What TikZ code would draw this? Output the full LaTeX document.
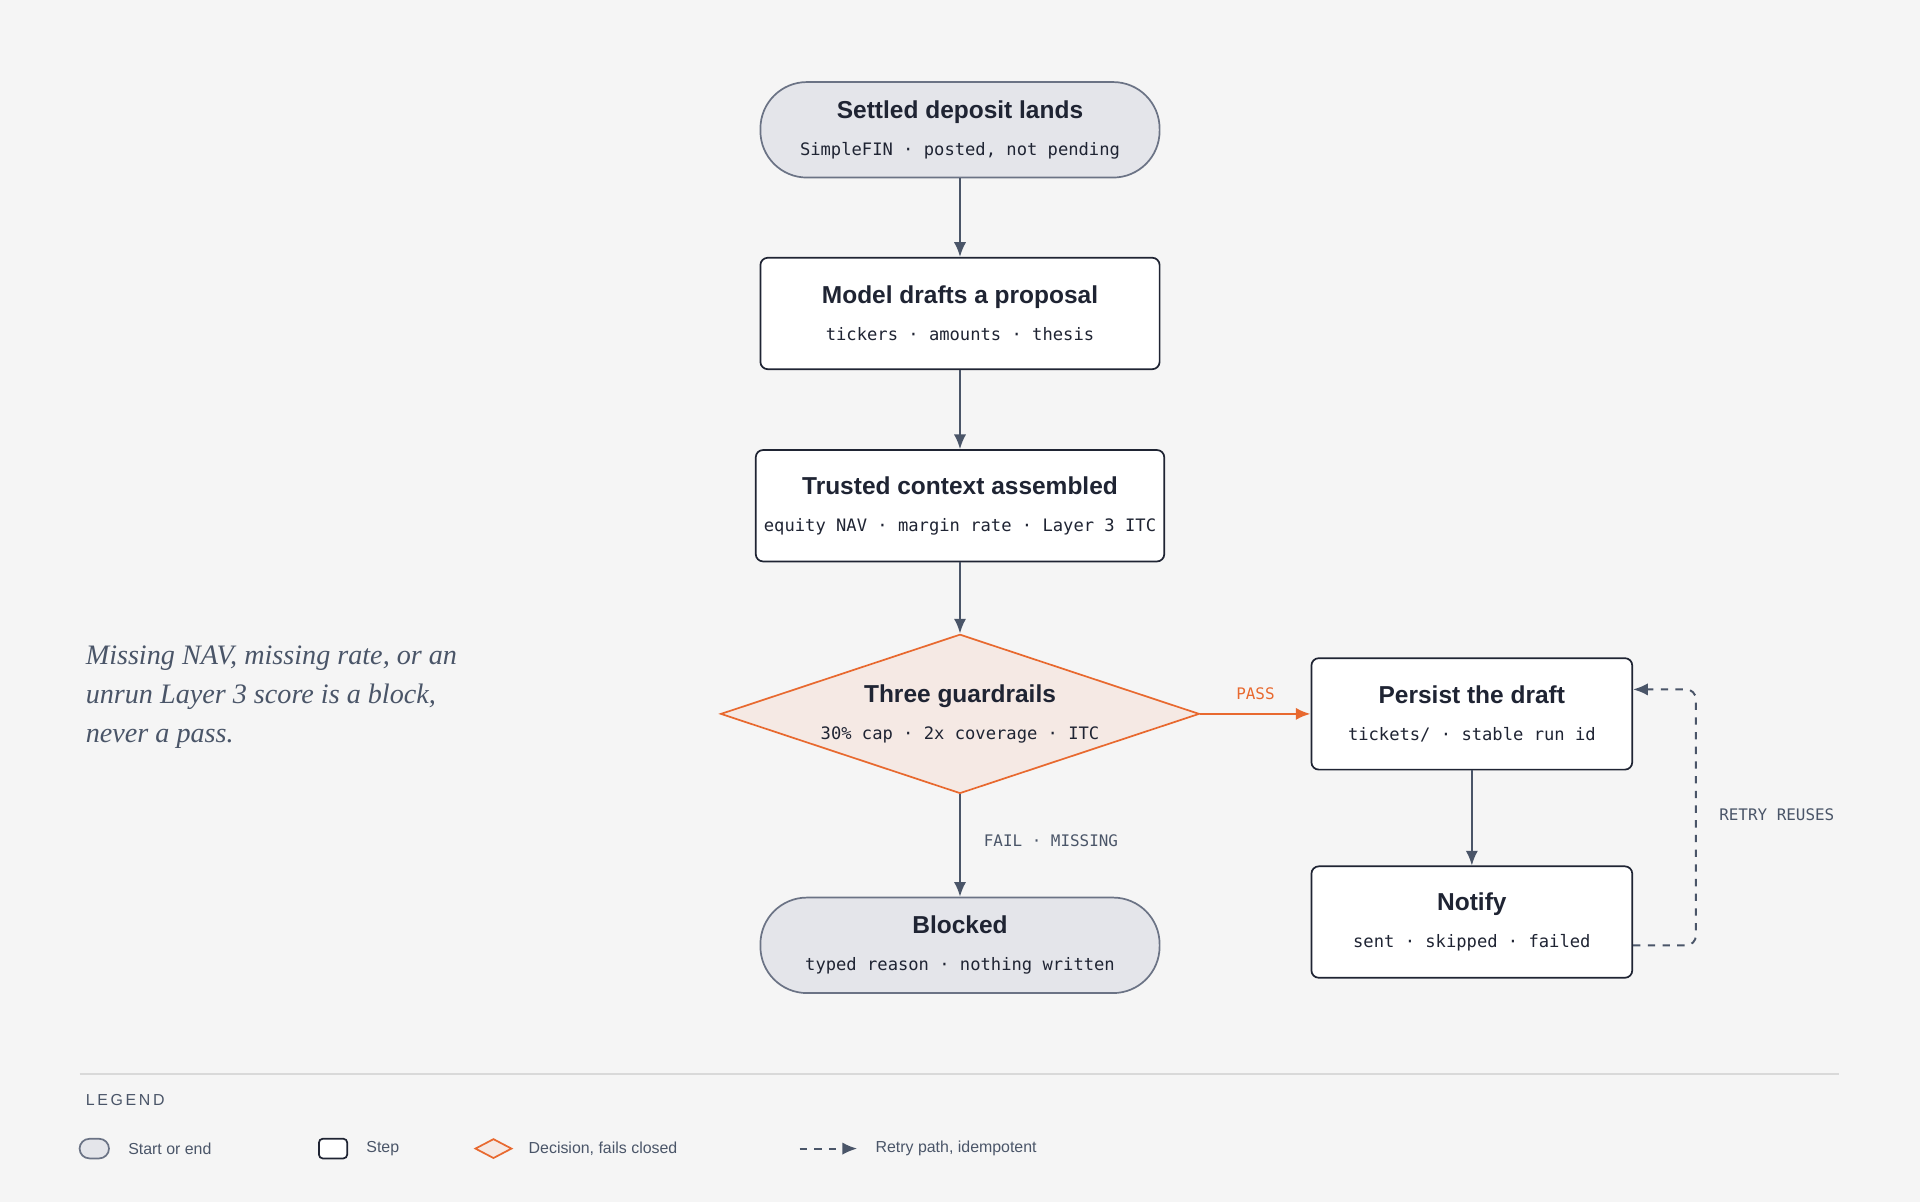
\documentclass[tikz,border=0pt]{standalone}
\usepackage{fontspec}
\setmainfont{Liberation Sans}
\newfontfamily\monof{DejaVu Sans Mono}
\newfontfamily\notef{Liberation Serif}
\usetikzlibrary{shapes.geometric,arrows.meta,positioning}
\definecolor{bgc}{HTML}{F5F5F5}
\definecolor{inkc}{HTML}{1F2433}
\definecolor{slatec}{HTML}{4A5568}
\definecolor{termfill}{HTML}{E4E5EA}
\definecolor{termdraw}{HTML}{6B7385}
\definecolor{orangec}{HTML}{E8692F}
\definecolor{decfill}{HTML}{F5E9E4}
\newcommand{\ttl}[1]{{\fontsize{10}{12}\selectfont\bfseries #1}}
\newcommand{\sbt}[1]{{\monof\fontsize{7}{9}\selectfont #1}}
\begin{document}
\begin{tikzpicture}[x=0.5pt, y=-0.5pt, text=inkc]
  % Styles
  \tikzset{
    term/.style={rectangle, rounded corners=19pt, draw=termdraw, fill=termfill, line width=0.7pt, minimum width=163pt, minimum height=39pt, align=center},
    proc/.style={rectangle, rounded corners=3pt, draw=inkc, fill=white, line width=0.7pt, minimum width=163pt, minimum height=45.5pt, align=center},
    dec/.style={diamond, draw=orangec, fill=decfill, line width=0.7pt, minimum width=195.5pt, minimum height=65pt, aspect=3, inner sep=0pt, align=center},
    flow/.style={-{Latex[length=6pt,width=5pt]}, slatec, line width=0.8pt},
    lab/.style={font=\monof\fontsize{6.5}{8}\selectfont, text=slatec},
    legtxt/.style={anchor=west, font=\fontsize{6.5}{8}\selectfont, text=slatec}
  }
  \fill[bgc] (0,0) rectangle (1568,982);
  \useasboundingbox (0,0) rectangle (1568,982);

  % Main column
  \node[term] (start) at (784,106) {\ttl{Settled deposit lands}\\[3pt]\sbt{SimpleFIN · posted, not pending}};
  \node[proc] (draft) at (784,256) {\ttl{Model drafts a proposal}\\[3pt]\sbt{tickers · amounts · thesis}};
  \node[proc] (ctx) at (784,413) {\ttl{Trusted context assembled}\\[3pt]\sbt{equity NAV · margin rate · Layer 3 ITC}};
  \node[dec] (guard) at (784,583) {\ttl{Three guardrails}\\[3pt]\sbt{30\% cap · 2x coverage · ITC}};
  \node[term] (block) at (784,772) {\ttl{Blocked}\\[3pt]\sbt{typed reason · nothing written}};
  % Right column
  \node[proc, minimum width=131pt] (persist) at (1202,583) {\ttl{Persist the draft}\\[3pt]\sbt{tickets/ · stable run id}};
  \node[proc, minimum width=131pt] (notify) at (1202,753) {\ttl{Notify}\\[3pt]\sbt{sent · skipped · failed}};
  \coordinate (rtop) at (1385,563);
  \coordinate (rbot) at (1385,772);

  % Arrows
  \draw[flow] (start) -- (draft);
  \draw[flow] (draft) -- (ctx);
  \draw[flow] (ctx) -- (guard.north);
  \draw[flow] (guard.south) -- node[lab, right=6pt, pos=0.45] {FAIL · MISSING} (block);
  \draw[flow, orangec, line width=1pt] (guard.east) -- node[lab, text=orangec, above=2pt, pos=0.5] {PASS} (persist);
  \draw[flow] (persist) -- (notify);
  \draw[flow, dashed, rounded corners=4pt] (notify.east |- rbot) -- (rbot) -- (rtop) -- (persist.east |- rtop);
  \node[lab, right=6pt] at (1385,665) {RETRY REUSES};

  % Note
  \node[anchor=north west, align=left, text=slatec, font=\notef\itshape\fontsize{11.5}{16}\selectfont] (note) at (63,520)
    {Missing NAV, missing rate, or an\\unrun Layer 3 score is a block,\\never a pass.};

  % Legend
  \draw[black!15, line width=0.5pt] (65,877) -- (1502,877);
  \node[legtxt] (leg) at (63,898) {L\,E\,G\,E\,N\,D};
  \node[term, minimum width=12pt, minimum height=8pt, rounded corners=4pt, inner sep=0pt] (lterm) at (77,938) {};
  \node[legtxt, right=4pt of lterm] {Start or end};
  \node[proc, minimum width=11.5pt, minimum height=8pt, rounded corners=1.5pt, inner sep=0pt] (lproc) at (272,938) {};
  \node[legtxt, right=4pt of lproc] {Step};
  \node[dec, minimum width=15pt, minimum height=8pt, aspect=1.9] (ldec) at (403,938) {};
  \node[legtxt, right=3pt of ldec] {Decision, fails closed};
  \coordinate (la) at (653,938);
  \coordinate (lb) at (700,938);
  \draw[flow, dashed] (la) -- (lb);
  \node[legtxt, right=4pt of lb] {Retry path, idempotent};
\end{tikzpicture}
\end{document}
